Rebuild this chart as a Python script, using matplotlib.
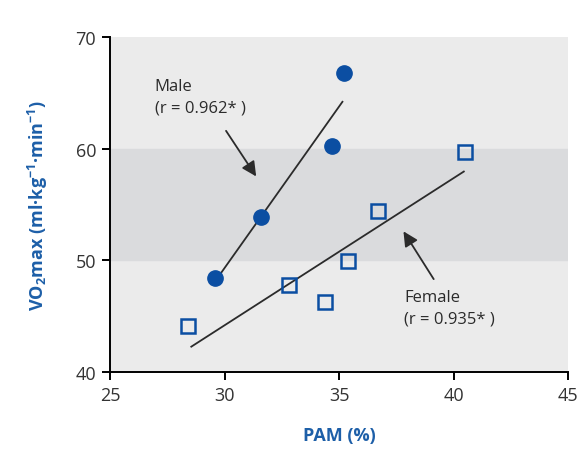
import numpy as np
import matplotlib.pyplot as plt

plt.rcParams['font.family'] = ['Open Sans', 'DejaVu Sans']
plt.rcParams['mathtext.default'] = 'regular'

# PAM (%) vs VO2max for each group
male_pam = [29.6, 31.6, 34.7, 35.2]
male_vo2 = [48.4, 53.9, 60.2, 66.8]
female_pam = [28.4, 32.8, 34.4, 35.4, 36.7, 40.5]
female_vo2 = [44.1, 47.8, 46.3, 49.9, 54.4, 59.7]

x_ticks = [25, 30, 35, 40, 45]
y_ticks = [40, 50, 60, 70]

blue = '#0b4ea2'
label_blue = '#1d5fa8'
ink = '#2b2b2b'

fig = plt.figure(figsize=(5.79, 4.52), dpi=100)
ax = fig.add_axes([0.19, 0.175, 0.791, 0.741])
ax.set_facecolor('#ebebeb')
ax.axhspan(50, 60, color='#dadbdd', zorder=0)

# regression lines over each group's range
for xs, ys in [(male_pam, male_vo2), (female_pam, female_vo2)]:
    k, b = np.polyfit(xs, ys, 1)
    xl = np.array([min(xs) + 0.15, max(xs) - 0.05])
    ax.plot(xl, k * xl + b, color=ink, lw=1.3, zorder=2)

ax.plot(male_pam, male_vo2, 'o', color=blue, ms=11, zorder=3)
ax.plot(female_pam, female_vo2, 's', mfc='none', mec=blue, mew=1.8, ms=10, zorder=3)

ax.text(26.95, 66.3, 'Male\n(r = 0.962* )', fontsize=12, color=ink,
        va='top', ha='left', linespacing=1.45)
ax.annotate('', xy=(31.45, 57.3), xytext=(30.0, 61.8),
            arrowprops=dict(arrowstyle='-|>', color=ink, lw=1.3, mutation_scale=22))

ax.text(37.85, 47.4, 'Female\n(r = 0.935* )', fontsize=12, color=ink,
        va='top', ha='left', linespacing=1.45)
ax.annotate('', xy=(37.75, 52.8), xytext=(39.2, 48.1),
            arrowprops=dict(arrowstyle='-|>', color=ink, lw=1.3, mutation_scale=22))

ax.set_xlim(25, 45)
ax.set_ylim(40, 70)
ax.set_xticks(x_ticks)
ax.set_yticks(y_ticks)
ax.spines['top'].set_visible(False)
ax.spines['right'].set_visible(False)
ax.spines['left'].set_linewidth(1.4)
ax.spines['bottom'].set_linewidth(1.4)
ax.tick_params(length=6, width=1.4, labelsize=13, labelcolor='#333333', pad=4)

ax.set_xlabel('PAM (%)', fontsize=13, fontweight='bold', color=label_blue, labelpad=16)
ax.set_ylabel('VO$_2$max (ml·kg$^{-1}$·min$^{-1}$)', fontsize=13,
              fontweight='bold', color=label_blue, labelpad=18)

fig.savefig('out.png', dpi=100)
